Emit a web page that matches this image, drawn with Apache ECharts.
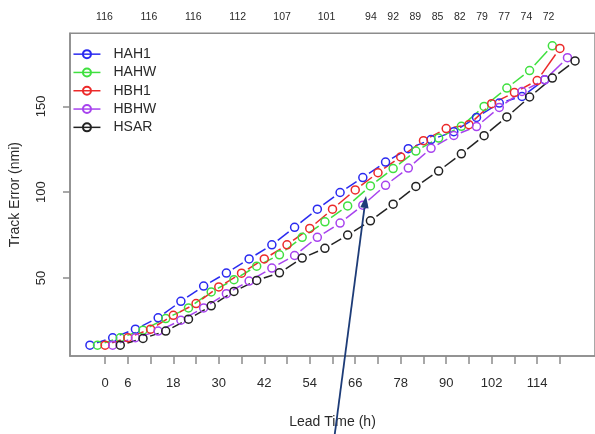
<!DOCTYPE html>
<html><head><meta charset="utf-8">
<script src="https://cdn.jsdelivr.net/npm/echarts@6/dist/echarts.min.js"></script>
<style>html,body{margin:0;padding:0;background:#fff}#c{width:595px;height:434px}</style>
</head><body><div id="c"></div>
<script>
// ---------- data ----------
const leadTimes = [0,6,12,18,24,30,36,42,48,54,60,66,72,78,84,90,96,102,108,114,120];
const modelNames = ['HAH1','HAHW','HBH1','HBHW','HSAR'];
const HAH1 = [10.9,15.2,20.2,26.8,36.4,45.3,52.9,61.1,69.3,79.5,90.1,99.8,108.5,117.5,125.3,130.6,135.2,143.5,151.9,155.7,165.5];
const HAHW = [10.9,15.2,19.6,26.4,32.6,41.9,49.0,56.9,63.5,73.7,82.7,92.0,103.6,113.7,123.9,131.5,138.3,149.9,160.6,170.8,185.2];
const HBH1 = [10.9,15.2,20.2,28.3,35.1,44.8,52.8,61.1,69.3,78.9,90.1,101.3,111.3,120.5,130.0,137.0,139.3,151.5,158.0,165.0,183.7];
const HBHW = [10.9,15.2,19.1,25.4,32.6,40.9,48.2,55.8,63.1,73.7,82.0,92.4,104.0,114.0,125.5,133.0,138.2,149.3,158.6,165.4,178.3];
const HSAR = [10.9,14.8,19.1,26.0,33.8,42.2,48.6,53.0,61.6,67.3,75.0,83.3,93.0,103.3,112.3,122.3,132.9,143.8,155.4,166.4,176.4];
const xTickValues = leadTimes;
const xLabelValues = [0,6,18,30,42,54,66,78,90,102,114];
const countLeads = [0,12,24,36,48,60,72,78,84,90,96,102,108,114,120];
const caseCounts = [116,116,116,112,107,101,94,92,89,85,82,79,77,74,72];
const yTickValues = [50,100,150];

// ---------- styling ----------
const seriesValues = [HAH1, HAHW, HBH1, HBHW, HSAR];
const colors = ['#2a2af0','#3fe03f','#ec2a2a','#a743ee','#222222'];
const DODGE = [-4,-2,0,2,4];   // horizontal dodge (h) per model
const GAP = 7.5;               // gap between circle centre and line end (px)
const FONT = '"Liberation Sans", Arial, Helvetica, sans-serif';
const TXT = '#2a2a2a';
const BOX = '#8c8c8c';

const chart = echarts.init(document.getElementById('c'), null, {renderer:'canvas'});

const series = [];
modelNames.forEach((name, k) => {
  const vals = seriesValues[k];
  const pts = leadTimes.map((L, i) => [L + DODGE[k], vals[i]]);
  const segs = [];
  for (let i = 1; i < pts.length; i++) segs.push([pts[i-1][0], pts[i-1][1], pts[i][0], pts[i][1]]);
  const col = colors[k];
  series.push({
    type: 'custom', name: name + ' seg', data: segs, silent: true, z: 2 + k,
    encode: {x: [0, 2], y: [1, 3]},
    renderItem: (params, api) => {
      const a = api.coord([api.value(0), api.value(1)]);
      const b = api.coord([api.value(2), api.value(3)]);
      const dx = b[0] - a[0], dy = b[1] - a[1], len = Math.hypot(dx, dy);
      if (len <= 2 * GAP) return null;
      const ux = dx / len, uy = dy / len;
      return {type: 'line', shape: {x1: a[0] + ux * GAP, y1: a[1] + uy * GAP, x2: b[0] - ux * GAP, y2: b[1] - uy * GAP},
              style: {stroke: col, lineWidth: 1.5}};
    }
  });
  series.push({
    type: 'line', name: name, data: pts, z: 10 + k,
    symbol: 'circle', symbolSize: 8, showSymbol: true,
    itemStyle: {color: 'rgba(255,255,255,0)', borderColor: col, borderWidth: 1.5},
    lineStyle: {color: col, width: 1.5, opacity: 0},
    emphasis: {disabled: true}
  });
});

chart.setOption({
  animation: false,
  backgroundColor: '#fff',
  textStyle: {fontFamily: FONT},
  grid: {left: 69, right: -2, top: 33.3, bottom: 76.3, show: true, borderColor: BOX, borderWidth: 1.5, backgroundColor: 'transparent'},
  legend: {
    data: modelNames, orient: 'vertical', left: 72.7, top: 45, padding: 0,
    itemWidth: 27, itemHeight: 10, itemGap: 0, selectedMode: false,
    textStyle: {fontFamily: FONT, fontSize: 14, color: TXT, lineHeight: 18.3, padding: [0,0,0,8]},
    lineStyle: {opacity: 1, width: 1.5}
  },
  xAxis: [{
    type: 'value', position: 'bottom', min: -9.26, max: 129.26,
    splitLine: {show: false},
    axisLine: {show: true, onZero: false, lineStyle: {color: BOX, width: 1.5}},
    axisTick: {show: true, customValues: xTickValues, length: 8, lineStyle: {color: BOX, width: 1.5}},
    axisLabel: {customValues: xLabelValues, margin: 21, fontSize: 13, color: TXT, fontFamily: FONT},
    name: 'Lead Time (h)', nameLocation: 'middle', nameGap: 59,
    nameTextStyle: {fontSize: 14, color: TXT, fontFamily: FONT}
  }, {
    type: 'value', position: 'top', min: -9.32, max: 132.54,
    splitLine: {show: false}, axisLine: {show: false, onZero: false}, axisTick: {show: false},
    axisLabel: {customValues: countLeads, margin: 11, fontSize: 10.5, color: TXT, fontFamily: FONT,
      formatter: v => { const i = countLeads.indexOf(Math.round(v)); return i >= 0 ? String(caseCounts[i]) : ''; }}
  }],
  yAxis: {
    type: 'value', min: 4.58, max: 192.5,
    splitLine: {show: false},
    axisLine: {show: true, onZero: false, lineStyle: {color: BOX, width: 1.5}},
    axisTick: {show: true, customValues: yTickValues, length: 7, lineStyle: {color: BOX, width: 1.5}},
    axisLabel: {customValues: yTickValues, rotate: 90, margin: 22, fontSize: 13, color: TXT, fontFamily: FONT},
    name: 'Track Error (nmi)', nameLocation: 'middle', nameGap: 48,
    nameTextStyle: {fontSize: 14, color: TXT, fontFamily: FONT}
  },
  series: series
});

// annotation arrow (drawn on the slide, not data)
(function () {
  const tip = [366, 196], tail = [334, 440];
  const dx = tip[0] - tail[0], dy = tip[1] - tail[1], len = Math.hypot(dx, dy);
  const ux = dx / len, uy = dy / len, hl = 12, hw = 4.2;
  const base = [tip[0] - ux * hl, tip[1] - uy * hl];
  const px = -uy, py = ux;
  chart.setOption({graphic: [
    {type: 'line', z: 100, shape: {x1: tail[0], y1: tail[1], x2: base[0], y2: base[1]}, style: {stroke: '#1d3c78', lineWidth: 1.8}},
    {type: 'polygon', z: 100, shape: {points: [tip, [base[0] + px * hw, base[1] + py * hw], [base[0] - px * hw, base[1] - py * hw]]}, style: {fill: '#1d3c78'}}
  ]});
})();
</script></body></html>
